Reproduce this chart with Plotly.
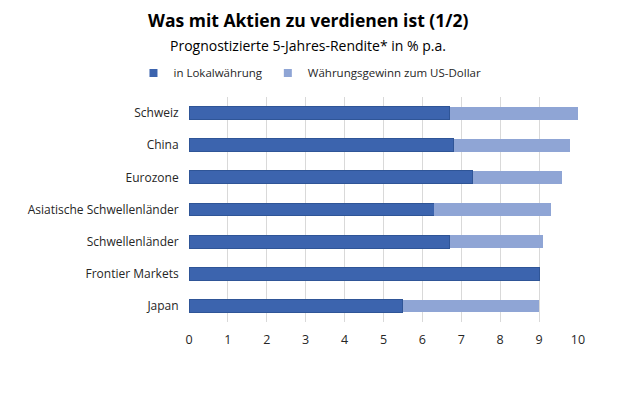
import plotly.graph_objects as go

categories = ["Schweiz", "China", "Eurozone", "Asiatische Schwellenländer",
              "Schwellenländer", "Frontier Markets", "Japan"]
local_ccy = [6.7, 6.8, 7.3, 6.3, 6.7, 9.0, 5.5]
fx_gain = [3.3, 3.0, 2.3, 3.0, 2.4, 0.0, 3.5]
x_ticks = list(range(0, 11))
series_names = ["in Lokalwährung", "Währungsgewinn zum US-Dollar"]
series_colors = ["#3C64AE", "#8FA5D5"]

FONT = "Open Sans, Noto Sans, sans-serif"

fig = go.Figure()
fig.add_trace(go.Bar(y=categories, x=local_ccy, orientation="h", name=series_names[0],
                     marker=dict(color=series_colors[0], line=dict(color="#2F5597", width=1)),
                     width=0.4, showlegend=False))
fig.add_trace(go.Bar(y=categories, x=fx_gain, orientation="h", name=series_names[1],
                     marker=dict(color=series_colors[1], line=dict(color=series_colors[1], width=0)),
                     width=0.4, showlegend=False))
# legend entries with small square symbols
for nm, col in zip(series_names, series_colors):
    fig.add_trace(go.Scatter(x=[None], y=[None], mode="markers", name=nm,
                             marker=dict(symbol="square", size=8, color=col)))

fig.update_layout(
    barmode="stack",
    width=620, height=413,
    margin=dict(l=189, r=42, t=97, b=91),
    paper_bgcolor="white", plot_bgcolor="white",
    font=dict(family=FONT, size=12, color="#262626"),
    showlegend=True,
    legend=dict(orientation="h", x=0.311, y=1.107, xanchor="center", yanchor="middle",
                font=dict(size=11.5, color="#262626"), traceorder="normal",
                itemwidth=30, tracegroupgap=0),
    xaxis=dict(range=[0, 10], tickvals=x_ticks, showgrid=True, gridcolor="#D9D9D9",
               gridwidth=1, zeroline=False, showline=False, ticks="",
               ticklabelstandoff=8,
               tickfont=dict(size=12.5, color="#262626")),
    yaxis=dict(autorange="reversed", showgrid=False, ticks="", showline=False,
               ticksuffix="   ", tickfont=dict(size=12, color="#262626")),
    annotations=[
        dict(text="<b>Was mit Aktien zu verdienen ist (1/2)</b>", x=0.305, y=1.342,
             xref="paper", yref="paper", showarrow=False, xanchor="center", yanchor="middle",
             font=dict(size=17.5, color="#000000", family=FONT)),
        dict(text="Prognostizierte 5-Jahres-Rendite* in % p.a.", x=0.305, y=1.231,
             xref="paper", yref="paper", showarrow=False, xanchor="center", yanchor="middle",
             font=dict(size=14, color="#000000", family=FONT)),
    ],
)

fig.write_html("out.html")
